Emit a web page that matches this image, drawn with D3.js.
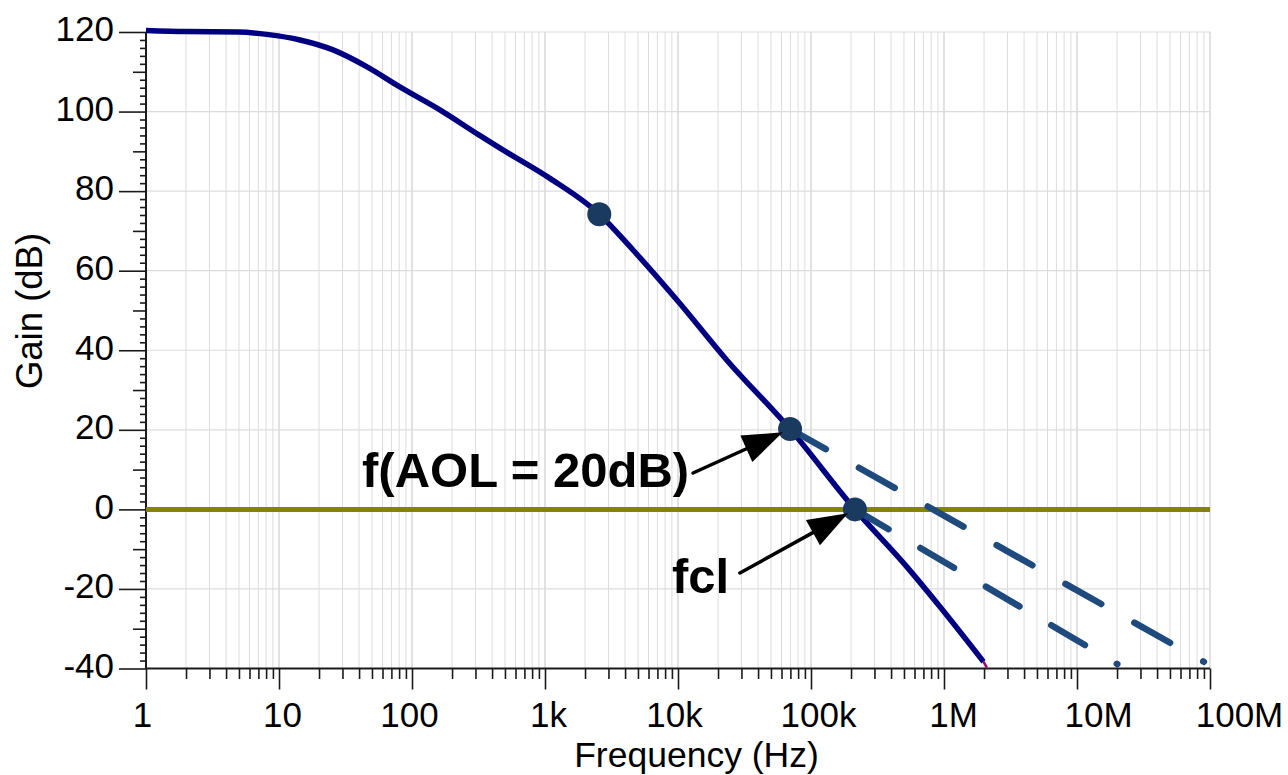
<!DOCTYPE html>
<html>
<head>
<meta charset="utf-8">
<script src="https://cdn.jsdelivr.net/npm/d3@7"></script>
<style>
  html, body { margin: 0; padding: 0; background: #fff; }
  svg { display: block; font-family: "Liberation Sans", Arial, sans-serif; }
</style>
</head>
<body>
<svg id="chart" width="1288" height="775"></svg>
<script>
// ---------------- data ----------------
const freqTicks = [1, 10, 100, 1e3, 1e4, 1e5, 1e6, 1e7, 1e8];
const freqTickLabels = ["1", "10", "100", "1k", "10k", "100k", "1M", "10M", "100M"];
const gainTicks = [-40, -20, 0, 20, 40, 60, 80, 100, 120];
const gainTickLabels = ["-40", "-20", "0", "20", "40", "60", "80", "100", "120"];

// open-loop gain curve (Hz, dB)
const aolFreq = [1, 2, 5, 8.1, 14.4, 25.5, 45.6, 81, 170, 316, 459, 1090, 2560, 4590, 10000, 23300, 69600, 214000, 524000, 933000, 1980000];
const aolGain = [120.4, 120.1, 120.0, 119.4, 118.0, 115.5, 111.3, 106.2, 100.0, 94.2, 90.8, 83.2, 74.2, 65.2, 52.3, 37.5, 20.2, 0, -14.4, -24.5, -38.3];
// short tail segment at the end of the curve
const tailFreq = [1980000, 2100000];
const tailGain = [-38.3, -39.8];

// 0 dB reference line
const refFreq = [1, 1e8];
const refGain = [0, 0];

// dashed -20 dB/decade extrapolations
const ext20Freq = [69600, 9.0e7];
const ext20Gain = [20.2, -38.3];
const extClFreq = [214000, 2.01e7];
const extClGain = [0, -38.9];

// marker dots
const markerFreq = [2560, 69600, 214000];
const markerGain = [74.2, 20.2, 0];

// annotations (text anchor and arrow start in data coords, arrow points to marker index)
const annText = ["f(AOL = 20dB)", "fcl"];
const annTextFreq = [42.1, 9000];
const annTextGain = [5.6, -20.9];
const annArrowFreq = [12970, 29200];
const annArrowGain = [9.15, -16.0];
const annTarget = [1, 2];

// ---------------- layout ----------------
const svg = d3.select("#chart");
const pLeft = 146, pRight = 1210, pTop = 32, pBottom = 668.5;
// small horizontal nudges of the frequency tick labels, as placed in the original
const freqLabelNudge = [-4, 3, -3, 3, -4, 7, 9, 21, 29];

const x = d3.scaleLog().domain([1, 1e8]).range([pLeft, pRight]);
const y = d3.scaleLinear().domain([-40, 120]).range([pBottom, pTop]);

// grid
const minorFreqs = [];
for (let e = 0; e < 8; e++) for (let k = 2; k <= 9; k++) minorFreqs.push(k * Math.pow(10, e));

const grid = svg.append("g");
grid.selectAll("line.vmin").data(minorFreqs).join("line")
  .attr("x1", d => x(d)).attr("x2", d => x(d))
  .attr("y1", pTop).attr("y2", pBottom)
  .attr("stroke", "#dcdcdc").attr("stroke-width", 1);
grid.selectAll("line.vmaj").data(freqTicks).join("line")
  .attr("x1", d => x(d)).attr("x2", d => x(d))
  .attr("y1", pTop).attr("y2", pBottom)
  .attr("stroke", "#cdcdcd").attr("stroke-width", 1.2);
grid.selectAll("line.h").data(gainTicks).join("line")
  .attr("x1", pLeft).attr("x2", pRight)
  .attr("y1", d => y(d)).attr("y2", d => y(d))
  .attr("stroke", "#dcdcdc").attr("stroke-width", 1.2);

// axes
function styleAxis(g, size) {
  g.select(".domain").remove();
  g.selectAll(".tick line").attr("stroke", "#1a1a1a").attr("stroke-width", 1.6);
  g.selectAll(".tick text").attr("fill", "#000").attr("font-size", size || 35)
    .attr("font-family", "'Liberation Sans', Arial, sans-serif");
}
// y axis
const gainMed = d3.range(-30, 121, 20);
const gainMinor = d3.range(-40, 121, 2).filter(v => v % 10 !== 0);
svg.append("g").attr("transform", `translate(${pLeft},0)`)
  .call(d3.axisLeft(y).tickValues(gainMinor).tickSize(6).tickSizeOuter(0).tickFormat(""))
  .call(styleAxis);
svg.append("g").attr("transform", `translate(${pLeft},0)`)
  .call(d3.axisLeft(y).tickValues(gainMed).tickSize(13).tickSizeOuter(0).tickFormat(""))
  .call(styleAxis);
svg.append("g").attr("transform", `translate(${pLeft},0)`)
  .call(d3.axisLeft(y).tickValues(gainTicks).tickSize(27).tickPadding(5).tickSizeOuter(0)
    .tickFormat((d, i) => gainTickLabels[i]))
  .call(g => styleAxis(g, 35))
  .call(g => g.selectAll(".tick text").attr("dy", "0.25em"));
// x axis
svg.append("g").attr("transform", `translate(0,${pBottom})`)
  .call(d3.axisBottom(x).tickValues(minorFreqs).tickSize(10.5).tickSizeOuter(0).tickFormat(""))
  .call(styleAxis);
svg.append("g").attr("transform", `translate(0,${pBottom})`)
  .call(d3.axisBottom(x).tickValues(freqTicks).tickSize(21).tickPadding(12.5).tickSizeOuter(0)
    .tickFormat((d, i) => freqTickLabels[i]))
  .call(g => styleAxis(g, 35))
  .call(g => g.selectAll(".tick text").attr("dx", (d, i) => freqLabelNudge[i]));
// axis lines
svg.append("line").attr("x1", pLeft).attr("x2", pLeft).attr("y1", pTop).attr("y2", pBottom)
  .attr("stroke", "#1a1a1a").attr("stroke-width", 2);
svg.append("line").attr("x1", pLeft).attr("x2", pRight).attr("y1", pBottom).attr("y2", pBottom)
  .attr("stroke", "#1a1a1a").attr("stroke-width", 2);

// axis titles
svg.append("text").attr("x", 696.5).attr("y", 767)
  .attr("text-anchor", "middle").attr("font-size", 35.5).text("Frequency (Hz)");
svg.append("text").attr("transform", "translate(41.5,311) rotate(-90)")
  .attr("text-anchor", "middle").attr("font-size", 36.5).text("Gain (dB)");

// 0 dB reference line
const line = d3.line().x(d => x(d[0])).y(d => y(d[1]));
svg.append("path").datum(d3.zip(refFreq, refGain)).attr("d", line)
  .attr("fill", "none").attr("stroke", "#848400").attr("stroke-width", 5);

// open-loop curve
const curve = d3.line().x(d => x(d[0])).y(d => y(d[1])).curve(d3.curveMonotoneX);
svg.append("path").datum(d3.zip(aolFreq, aolGain)).attr("d", curve)
  .attr("fill", "none").attr("stroke", "#000080").attr("stroke-width", 5.5)
  .attr("stroke-linejoin", "round");
svg.append("path").datum(d3.zip(tailFreq, tailGain)).attr("d", line)
  .attr("fill", "none").attr("stroke", "#a0006a").attr("stroke-width", 2.5);

// dashed extrapolations
svg.append("path").datum(d3.zip(ext20Freq, ext20Gain)).attr("d", line)
  .attr("fill", "none").attr("stroke", "#1f4a7e").attr("stroke-width", 6.5)
  .attr("stroke-linecap", "round").attr("stroke-dasharray", "41,38");
svg.append("path").datum(d3.zip(extClFreq, extClGain)).attr("d", line)
  .attr("fill", "none").attr("stroke", "#1f4a7e").attr("stroke-width", 6.5)
  .attr("stroke-linecap", "round").attr("stroke-dasharray", "39,37");

// markers
svg.selectAll("circle.m").data(d3.zip(markerFreq, markerGain)).join("circle")
  .attr("cx", d => x(d[0])).attr("cy", d => y(d[1])).attr("r", 12)
  .attr("fill", "#1a3a60");

// annotations
annText.forEach((t, i) => {
  svg.append("text").attr("x", x(annTextFreq[i])).attr("y", y(annTextGain[i]))
    .attr("font-size", 49).attr("font-weight", "bold").attr("fill", "#000").text(t);
  const x0 = x(annArrowFreq[i]), y0 = y(annArrowGain[i]);
  const cx = x(markerFreq[annTarget[i]]), cy = y(markerGain[annTarget[i]]);
  const dx = cx - x0, dy = cy - y0, L = Math.hypot(dx, dy);
  const ux = dx / L, uy = dy / L;
  const tipX = cx - ux * 8, tipY = cy - uy * 8;
  const headLen = 40, halfW = 14.5;
  const bx = tipX - ux * headLen, by = tipY - uy * headLen;
  svg.append("line").attr("x1", x0).attr("y1", y0).attr("x2", bx + ux * 2).attr("y2", by + uy * 2)
    .attr("stroke", "#000").attr("stroke-width", 3.5).attr("stroke-linecap", "round");
  svg.append("path")
    .attr("d", `M${tipX},${tipY}L${bx - uy * halfW},${by + ux * halfW}L${bx + uy * halfW},${by - ux * halfW}Z`)
    .attr("fill", "#000");
});
</script>
</body>
</html>
